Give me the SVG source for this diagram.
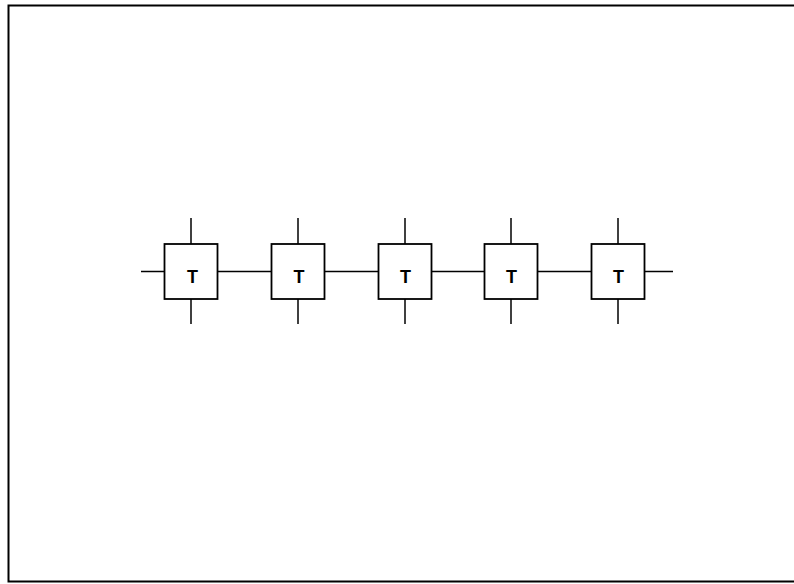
<svg xmlns="http://www.w3.org/2000/svg" width="794" height="584" viewBox="0 0 794 584">
<style>
.frame{fill:none;stroke:#000;stroke-width:2}
.box{fill:#fff;stroke:#000;stroke-width:1.8}
.wire{stroke:#000;stroke-width:1.5;fill:none}
.lbl{font-family:"Liberation Sans",Arial,sans-serif;font-size:18px;font-weight:bold;fill:#000;text-anchor:middle}
</style>
<rect fill="#fff" x="0" y="0" width="794" height="584"/>
<path class="frame" d="M800,5.5 H8.5 V581.5 H800"/>
<g id="connectors">
<line class="wire" x1="141" y1="271.5" x2="673" y2="271.5"/>
<line class="wire" x1="191" y1="218" x2="191" y2="324"/>
<line class="wire" x1="298" y1="218" x2="298" y2="324"/>
<line class="wire" x1="405" y1="218" x2="405" y2="324"/>
<line class="wire" x1="511" y1="218" x2="511" y2="324"/>
<line class="wire" x1="618" y1="218" x2="618" y2="324"/>
</g>
<g id="t1"><rect class="box" x="164.5" y="244" width="53" height="55"/><text class="lbl" x="192.5" y="283">T</text></g>
<g id="t2"><rect class="box" x="271.5" y="244" width="53" height="55"/><text class="lbl" x="299" y="283">T</text></g>
<g id="t3"><rect class="box" x="378.5" y="244" width="53" height="55"/><text class="lbl" x="405.5" y="283">T</text></g>
<g id="t4"><rect class="box" x="484.5" y="244" width="53" height="55"/><text class="lbl" x="511.5" y="283">T</text></g>
<g id="t5"><rect class="box" x="591.5" y="244" width="53" height="55"/><text class="lbl" x="618.5" y="283">T</text></g>
</svg>
